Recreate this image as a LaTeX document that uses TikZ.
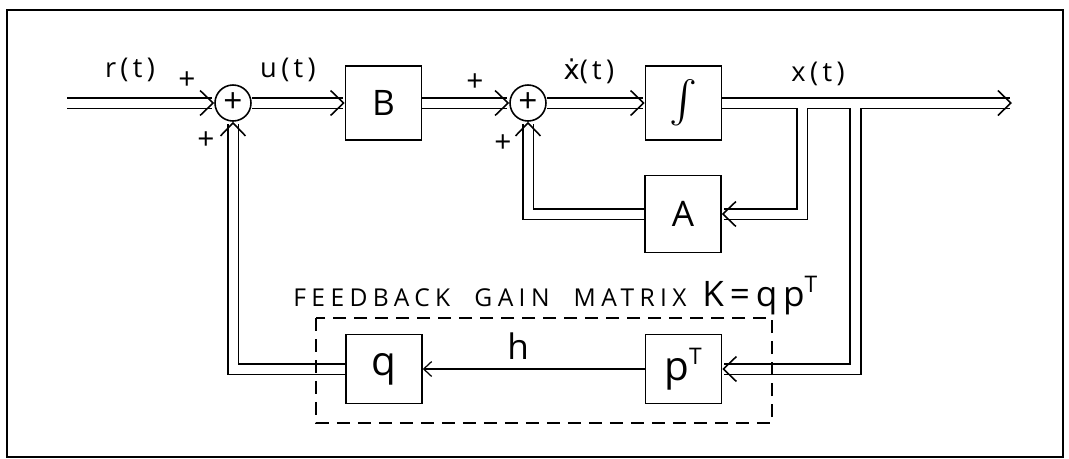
\documentclass[tikz,border=0pt]{standalone}
\usepackage{fontspec}
\setmainfont{Open Sans}
\newfontfamily\dotfont{DejaVu Sans}
\usetikzlibrary{arrows.meta,positioning,calc}

\tikzset{
  block/.style={draw, line width=0.9pt, minimum width=1.52cm, minimum height=1.48cm, inner sep=0pt, font=\fontsize{20}{20}\selectfont},
  lowblock/.style={block, minimum height=1.38cm, font=\fontsize{23}{23}\selectfont},
  sumnode/.style={draw, circle, line width=0.9pt, minimum size=0.72cm, inner sep=0pt, font=\fontsize{19}{19}\selectfont},
  pipe/.style={double, double distance=0.18cm, line width=0.9pt, -{Straight Barb[length=0.26cm,width=0.5cm,line width=0.9pt]}},
  pipefill/.style={draw=white, line width=0.18cm},
  wire/.style={line width=0.7pt, -{Straight Barb[length=0.16cm,width=0.3cm,line width=0.7pt]}},
  sig/.style={font=\fontsize{15.5}{15.5}\selectfont\addfontfeature{LetterSpace=16}},
  sgn/.style={font=\fontsize{17}{17}\selectfont},
  dashbox/.style={draw, line width=0.9pt, dash pattern=on 0.26cm off 0.16cm}
}

\begin{document}
\begin{tikzpicture}[x=0.02cm, y=-0.02cm]
    \useasboundingbox (0,0) rectangle (1069,458);
    \draw[line width=1.2pt] (7,10) rectangle (1063,457);

    % === forward path ===
    \coordinate (in) at (67,103);
    \node[sumnode] (s1) at (233,103) {+};
    \node[block] (B) at (383.5,103) {B};
    \node[sumnode] (s2) at (528,103) {+};
    \node[block] (int) at (683.5,103) {\resizebox{!}{0.9cm}{$\int$}};
    \node[block, minimum height=1.54cm] (A) at (683,214) {A};
    \coordinate (out) at (1012,103);
    \coordinate (br1) at (802,103);
    \coordinate (br2) at (855.5,103);

    % === feedback gain ===
    \node[lowblock] (pT) at (683.5,369) {p\textsuperscript{\fontsize{13}{13}\selectfont T}};
    \node[lowblock] (q) at (384,369) {q};

    \draw[pipe] (in) -- (s1.west);
    \draw[pipe] (s1.east) -- (B.west);
    \draw[pipe] (B.east) -- (s2.west);
    \draw[pipe] (s2.east) -- (int.west);
    \draw[pipe] (int.east) -- (out);
    \draw[pipe] (br1) |- (A.east);
    \draw[pipe] (br2) |- (pT.east);
    \draw[pipefill] (int.east) -- ($(out)+(-14,0)$);
    \draw[pipe] (A.west) -| (s2.south);
    \draw[pipe] (q.west) -| (s1.south);
    \draw[wire] (pT.west) -- node[pos=0.57, above=2pt, font=\fontsize{20}{20}\selectfont] (h) {h} (q.east);

    % dashed box
    \draw[dashbox] (316,318) rectangle (772,423);

    % labels
    \node[sig] (rl) at (130,70) {r(t)};
    \node[sig] (ul) at (288,70) {u(t)};
    \node[sig] (xdl) at (589,71) {{\dotfont ẋ}(t)};
    \node[sig] (xl) at (818,74) {x\,(t)};
    \node[sgn] (p1) at (187,81) {+};
    \node[sgn] (p2) at (206,141) {+};
    \node[sgn] (p3) at (475,83) {+};
    \node[sgn] (p4) at (503,144) {+};
    \node[anchor=base west, inner sep=0pt] (kl) at (293,306)
      {{\fontsize{14}{14}\selectfont\addfontfeature{LetterSpace=22}FEEDBACK\hspace{0.5em} GAIN\hspace{0.5em} MATRIX}\hspace{0.9em}{\fontsize{20}{20}\selectfont K\,=\,q\,p\textsuperscript{\fontsize{13}{13}\selectfont T}}};
\end{tikzpicture}
\end{document}
